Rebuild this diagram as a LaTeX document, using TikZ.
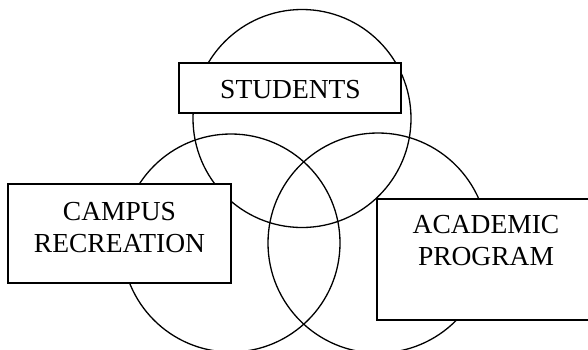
\documentclass[tikz,border=0pt]{standalone}
\usepackage{fontspec}
\setmainfont{Liberation Serif}
\begin{document}
\begin{tikzpicture}[x=1pt,y=-1pt,
  ring/.style={draw=black,line width=1.3pt},
  box/.style={draw=black,fill=white,line width=1.9pt,inner sep=0pt},
  lbl/.style={align=center,inner sep=0pt,font=\fontsize{27.5}{32}\selectfont}]
\useasboundingbox (0,0) rectangle (588,349);
\clip (0,0) rectangle (588,349);
% circles
\node[ring,circle,minimum size=218pt,inner sep=0pt] (ctop) at (302,118.5) {};
\node[ring,circle,minimum size=218pt,inner sep=0pt] (cleft) at (231,243) {};
\node[ring,circle,minimum size=220pt,inner sep=0pt] (cright) at (378,243) {};
% boxes
\node[box,minimum width=222pt,minimum height=50pt] (bstud) at (290,88) {};
\node[box,minimum width=223pt,minimum height=99pt] (bcamp) at (119.5,233.5) {};
\node[box,minimum width=220pt,minimum height=121pt] (bacad) at (487,259.5) {};
% labels
\node[lbl] (tstud) at (290.5,90) {STUDENTS};
\node[lbl] (tcamp) at (119.5,227.5) {CAMPUS\\RECREATION};
\node[lbl] (tacad) at (486,241) {ACADEMIC\\PROGRAM};
\end{tikzpicture}
\end{document}
